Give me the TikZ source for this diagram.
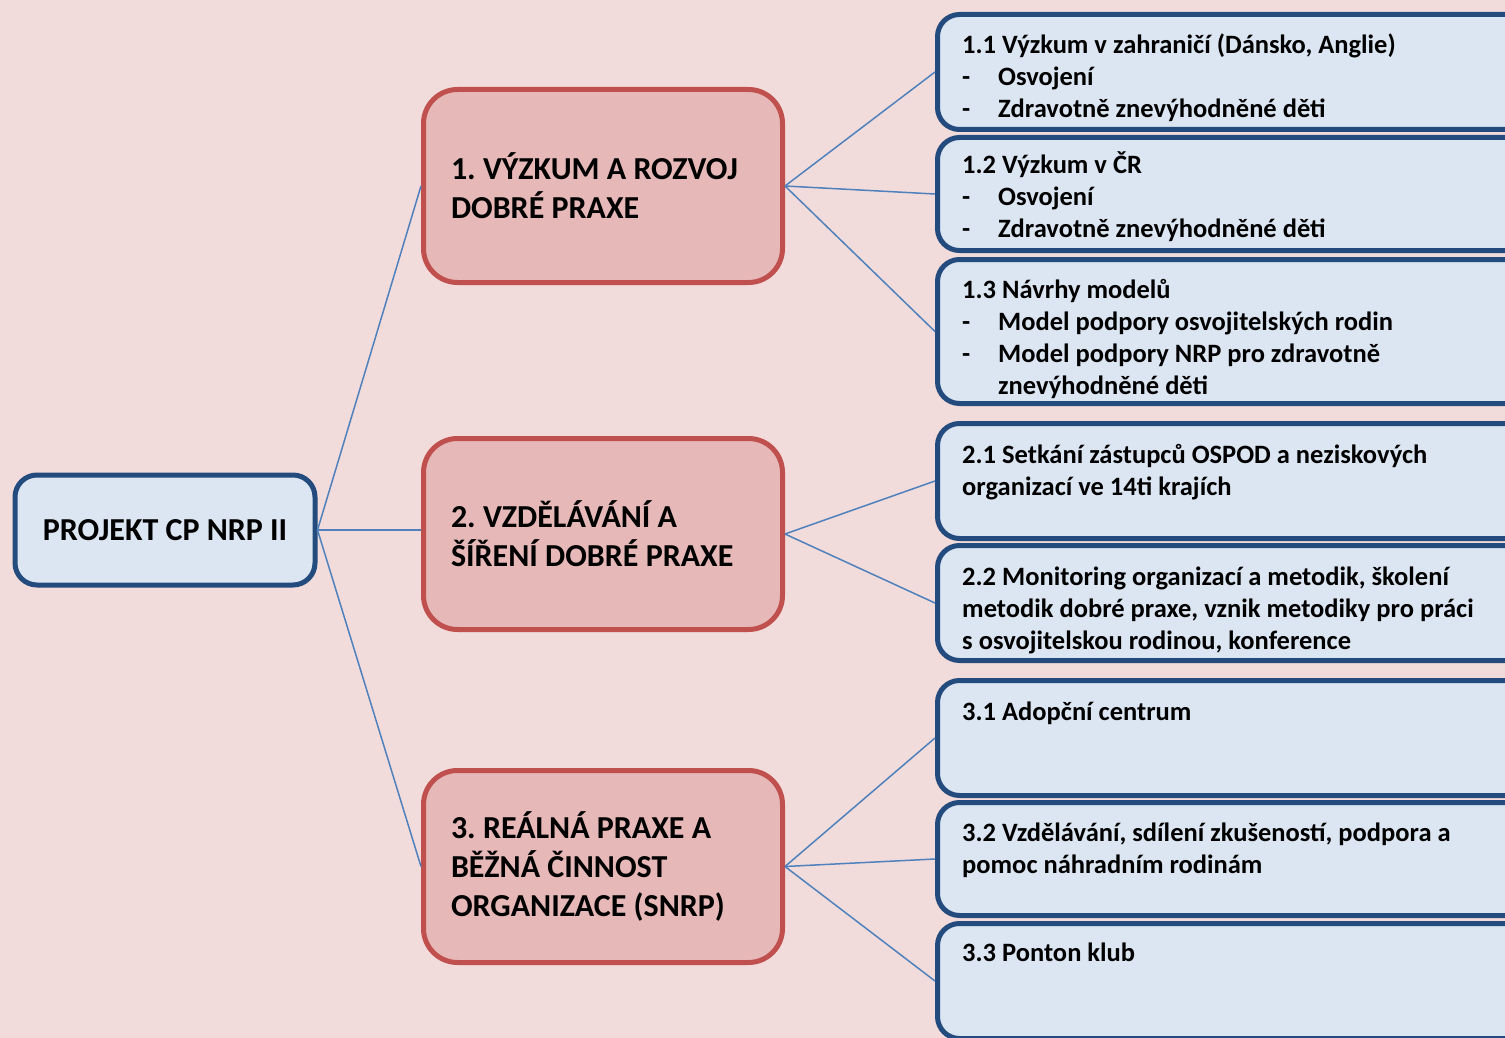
\documentclass[tikz,border=0pt]{standalone}
\usepackage{fontspec}
\setmainfont{Carlito}
\definecolor{bgcol}{RGB}{242,220,219}
\definecolor{bluefill}{RGB}{220,230,242}
\definecolor{blueline}{RGB}{36,75,125}
\definecolor{redfill}{RGB}{230,185,184}
\definecolor{redline}{RGB}{192,80,77}
\definecolor{conn}{RGB}{79,129,189}
\frenchspacing
\begin{document}
\begin{tikzpicture}[x=1pt,y=-1pt,
  rootbox/.style={draw=blueline,fill=bluefill,line width=5pt,rounded corners=22pt,
    minimum width=300pt,minimum height=110pt,inner sep=0pt,
    font=\fontsize{32}{38}\selectfont\bfseries},
  mainbox/.style={draw=redline,fill=redfill,line width=5pt,rounded corners=34pt,
    minimum width=359pt,inner xsep=27.5pt,inner ysep=0pt,text width=304pt,align=flush left,
    font=\fontsize{32}{39}\selectfont\bfseries},
  subbox/.style={draw=blueline,fill=bluefill,line width=5pt,rounded corners=22pt,
    minimum width=622pt,inner sep=0pt},
  subtxt/.style={anchor=base west,inner sep=0pt,
    font=\fontsize{26.5}{32}\selectfont\bfseries},
  link/.style={draw=conn,line width=1.5pt}]
\clip (0,0) rectangle (1505,1038);
\fill[bgcol] (0,0) rectangle (1505,1038);

% root
\node[rootbox] (root) at (165,530) {PROJEKT CP NRP II};

% main boxes
\node[mainbox,minimum height=193pt] (m1) at (603,186) {1. VÝZKUM A ROZVOJ\\DOBRÉ PRAXE};
\node[mainbox,minimum height=191pt] (m2) at (603,534) {2. VZDĚLÁVÁNÍ A\\ŠÍŘENÍ DOBRÉ PRAXE};
\node[mainbox,minimum height=192pt] (m3) at (603,866.5) {3. REÁLNÁ PRAXE A\\BĚŽNÁ ČINNOST\\ORGANIZACE (SNRP)};

% sub boxes
\node[subbox,minimum height=115pt] (r11) at (1248.5,72) {};
\node[subbox,minimum height=113pt] (r12) at (1248.5,194) {};
\node[subbox,minimum height=144pt] (r13) at (1248.5,331.5) {};
\node[subbox,minimum height=115pt] (r21) at (1248.5,481) {};
\node[subbox,minimum height=115pt] (r22) at (1248.5,603) {};
\node[subbox,minimum height=115pt] (r31) at (1248.5,738) {};
\node[subbox,minimum height=113pt] (r32) at (1248.5,859) {};
\node[subbox,minimum height=115pt] (r33) at (1248.5,981) {};

\newcommand{\dashitem}[1]{\makebox[36pt][l]{-}#1}
\newcommand{\toptext}[1]{\parbox[t]{540pt}{\raggedright #1}}
\node[subtxt] (t11) at (962,54) {\toptext{1.1 Výzkum v zahraničí (Dánsko, Anglie)\\\dashitem{Osvojení}\\\dashitem{Zdravotně znevýhodněné děti}}};
\node[subtxt] (t12) at (962,174) {\toptext{1.2 Výzkum v ČR\\\dashitem{Osvojení}\\\dashitem{Zdravotně znevýhodněné děti}}};
\node[subtxt] (t13) at (962,298) {\toptext{1.3 Návrhy modelů\\\dashitem{Model podpory osvojitelských rodin}\\\dashitem{Model podpory NRP pro zdravotně}\\\hspace*{36pt}znevýhodněné děti}};
\node[subtxt] (t21) at (962,463) {\toptext{2.1 Setkání zástupců OSPOD a neziskových\\organizací ve 14ti krajích}};
\node[subtxt] (t22) at (962,585) {\toptext{2.2 Monitoring organizací a metodik, školení\\metodik dobré praxe, vznik metodiky pro práci\\s osvojitelskou rodinou, konference}};
\node[subtxt] (t31) at (962,720) {\toptext{3.1 Adopční centrum}};
\node[subtxt] (t32) at (962,841) {\toptext{3.2 Vzdělávání, sdílení zkušeností, podpora a\\pomoc náhradním rodinám}};
\node[subtxt] (t33) at (962,961) {\toptext{3.3 Ponton klub}};

% connectors
\draw[link] (root.east) -- (m1.west);
\draw[link] (root.east) -- (root.east -| m2.west);
\draw[link] (root.east) -- (m3.west);
\draw[link] (m1.east) -- (r11.west);
\draw[link] (m1.east) -- (r12.west);
\draw[link] (m1.east) -- (r13.west);
\draw[link] (m2.east) -- (r21.west);
\draw[link] (m2.east) -- (r22.west);
\draw[link] (m3.east) -- (r31.west);
\draw[link] (m3.east) -- (r32.west);
\draw[link] (m3.east) -- (r33.west);
\end{tikzpicture}
\end{document}
